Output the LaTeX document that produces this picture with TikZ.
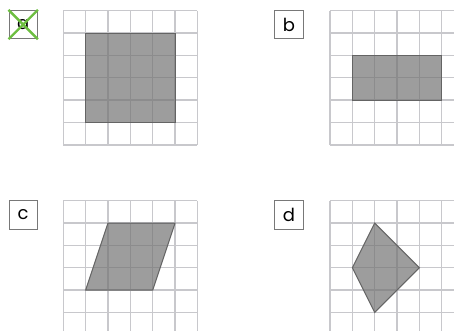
\documentclass[tikz,border=0pt]{standalone}
\usepackage{fontspec}
\setmainfont{Poppins}
\usetikzlibrary{calc}
\definecolor{gridgray}{RGB}{200,200,204}
\definecolor{edgegray}{RGB}{100,100,100}
\definecolor{boxgray}{RGB}{120,120,120}
\definecolor{tickgreen}{RGB}{108,190,64}
\tikzset{
  gridline/.style={draw=gridgray, line width=1.4pt},
  figshape/.style={fill=black!55, fill opacity=0.7, draw=edgegray, line width=1pt},
  lblbox/.style={draw=boxgray, line width=0.9pt, minimum size=28.5pt, inner sep=0pt, font=\fontsize{18}{18}\selectfont},
  panel/.style={x=22.35pt, y=-22.35pt}
}
\begin{document}
\begin{tikzpicture}[x=1pt,y=-1pt]
\useasboundingbox (0,0) rectangle (454,330);
\clip (0,0) rectangle (454,330);

\begin{scope}[shift={(63.3,10.7)}, panel]
\foreach \i in {0,...,6} {\draw[gridline] (\i,0)--(\i,6); \draw[gridline] (0,\i)--(6,\i);}
\draw[figshape] (1,1) rectangle (5,5);
\end{scope}

\begin{scope}[shift={(330,10.7)}, panel]
\foreach \i in {0,...,6} {\draw[gridline] (\i,0)--(\i,6); \draw[gridline] (0,\i)--(7,\i);}
\draw[figshape] (1,2) rectangle (5,4);
\end{scope}

\begin{scope}[shift={(63.3,200.7)}, panel]
\foreach \i in {0,...,6} {\draw[gridline] (\i,0)--(\i,7);}
\foreach \i in {0,...,6} {\draw[gridline] (0,\i)--(6,\i);}
\draw[figshape] (2,1)--(5,1)--(4,4)--(1,4)--cycle;
\end{scope}

\begin{scope}[shift={(330,200.7)}, panel]
\foreach \i in {0,...,6} {\draw[gridline] (\i,0)--(\i,7); \draw[gridline] (0,\i)--(7,\i);}
\draw[figshape] (2,1)--(4,3)--(2,5)--(1,3)--cycle;
\end{scope}

\node[lblbox] (la) at (23.2,24.5) {a};
\node[lblbox] (lb) at (289,24.5) {b};
\node[lblbox] (lc) at (23.2,215) {c};
\node[lblbox] (ld) at (289,215) {d};
\draw[tickgreen, line width=2.4pt] (la.north west)--(la.south east) (la.south west)--(la.north east);
\end{tikzpicture}
\end{document}
